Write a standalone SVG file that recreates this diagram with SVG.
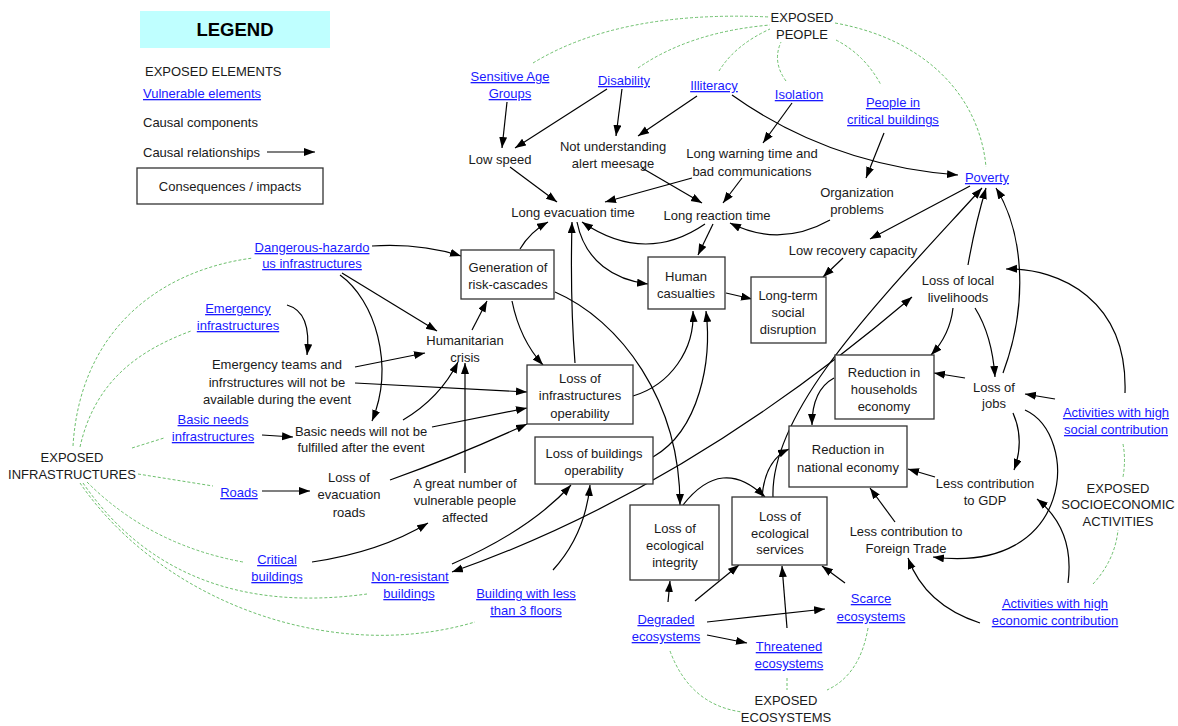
<svg xmlns="http://www.w3.org/2000/svg" width="1178" height="726" viewBox="0 0 1178 726">
<style>
.t{font-family:"Liberation Sans",Arial,sans-serif;font-size:13px;fill:#1a1a1a;text-anchor:middle}
.v{fill:#1a1aff;text-decoration:underline}
.box{fill:#fff;stroke:#333;stroke-width:1.3}
.c{fill:none;stroke:#000;stroke-width:1.2;marker-end:url(#ah)}
.b{marker-start:url(#ah)}
.g{fill:none;stroke:#5cb85c;stroke-width:0.9;stroke-dasharray:3 2}
</style>
<defs>
<marker id="ah" markerUnits="userSpaceOnUse" markerWidth="12" markerHeight="9" refX="11" refY="4" orient="auto-start-reverse"><path d="M0,0 L11,4 L0,8 z" fill="#000"/></marker>
</defs>
<rect width="1178" height="726" fill="#fff"/>

<g id="legend">
<rect x="140" y="11" width="190" height="37" fill="#bfffff"/>
<text x="235" y="36" style="font-family:'Liberation Sans',Arial,sans-serif;font-size:18.5px;font-weight:bold;text-anchor:middle">LEGEND</text>
<text class="t" x="145" y="76" style="text-anchor:start">EXPOSED ELEMENTS</text>
<text class="t v" x="143" y="98" style="text-anchor:start">Vulnerable elements</text>
<text class="t" x="143" y="127" style="text-anchor:start">Causal components</text>
<text class="t" x="143" y="157" style="text-anchor:start">Causal relationships</text>
<path class="c" d="M267,152 L315,152"/>
<rect class="box" x="137" y="168" width="186" height="36"/>
<text class="t" x="230" y="191">Consequences / impacts</text>
</g>

<g id="exposure-links">
<path class="g" d="M533,63 Q620,10 770,17"/>
<path class="g" d="M638,68 Q690,32 770,25"/>
<path class="g" d="M719,71 Q735,45 770,29"/>
<path class="g" d="M786,81 Q772,62 781,42"/>
<path class="g" d="M836,40 Q865,55 881,85"/>
<path class="g" d="M835,23 C930,40 980,100 986,167"/>
<path class="g" d="M73,446 C80,330 160,270 253,258"/>
<path class="g" d="M80,447 C95,380 140,350 191,331"/>
<path class="g" d="M132,448 L164,438"/>
<path class="g" d="M138,474 L213,486"/>
<path class="g" d="M87,482 Q150,545 243,562"/>
<path class="g" d="M83,483 C150,580 250,610 367,594"/>
<path class="g" d="M80,483 C160,600 330,665 475,622"/>
<path class="g" d="M670,651 Q690,705 742,712"/>
<path class="g" d="M787,678 L787,690"/>
<path class="g" d="M868,628 Q860,675 827,690"/>
<path class="g" d="M1123,444 Q1126,460 1123,477"/>
<path class="g" d="M1093,584 Q1115,560 1118,530"/>
</g>

<g id="connectors">
<path class="c" d="M507,102 L502,148"/>
<path class="c" d="M607,89 L515,148"/>
<path class="c" d="M622,89 L616,136"/>
<path class="c" d="M697,96 L638,136"/>
<path class="c" d="M732,95 Q830,165 958,175"/>
<path class="c" d="M792,103 L763,143"/>
<path class="c" d="M884,133 L866,178"/>
<path class="c" d="M510,167 L557,202"/>
<path class="c" d="M642,168 L702,203"/>
<path class="c" d="M692,178 L605,202"/>
<path class="c" d="M742,178 L723,203"/>
<path class="c" d="M830,220 Q780,248 730,223"/>
<path class="c" d="M705,224 Q645,265 582,222"/>
<path class="c" d="M713,224 L698,255"/>
<path class="c" d="M577,222 C585,262 615,280 648,284"/>
<path class="c" d="M970,186 L870,239"/>
<path class="c" d="M843,258 L823,277"/>
<path class="c" d="M726,293 L752,299"/>
<path class="c" d="M372,246 Q420,243 461,256"/>
<path class="c" d="M342,273 L437,331"/>
<path class="c" d="M340,275 C375,300 395,365 372,421"/>
<path class="c" d="M287,305 Q312,312 307,355"/>
<path class="c" d="M355,367 L425,353"/>
<path class="c" d="M355,383 L527,392"/>
<path class="c" d="M262,435 L293,437"/>
<path class="c" d="M403,420 Q440,398 458,362"/>
<path class="c" d="M432,427 L527,408"/>
<path class="c" d="M262,491 L310,491"/>
<path class="c" d="M390,480 Q460,455 527,424"/>
<path class="c" d="M465,473 L465,363"/>
<path class="c" d="M312,562 Q380,552 428,523"/>
<path class="c" d="M472,330 L487,301"/>
<path class="c" d="M512,301 Q520,340 543,365"/>
<path class="c" d="M520,249 Q530,232 548,222"/>
<path class="c" d="M575,363 Q570,300 572,222"/>
<path class="c" d="M555,292 C620,320 680,400 680,505"/>
<path class="c" d="M633,396 C670,385 695,350 693,311"/>
<path class="c" d="M653,457 C700,430 712,360 706,311"/>
<path class="c" d="M452,564 Q530,530 571,485"/>
<path class="c" d="M553,570 Q585,535 590,485"/>
<path class="c b" d="M452,572 Q684,491 912,297"/>
<path class="c" d="M773,497 C770,410 880,300 982,188"/>
<path class="c" d="M968,265 Q975,225 986,188"/>
<path class="c" d="M1003,373 C1030,300 1022,230 996,188"/>
<path class="c" d="M953,308 Q950,335 931,355"/>
<path class="c" d="M975,308 Q992,335 995,377"/>
<path class="c" d="M965,378 L934,373"/>
<path class="c" d="M1055,399 L1025,394"/>
<path class="c" d="M1125,393 C1128,300 1060,268 1006,269"/>
<path class="c" d="M1013,413 Q1025,440 1014,470"/>
<path class="c" d="M1025,410 C1080,435 1075,575 933,557"/>
<path class="c" d="M935,477 L908,469"/>
<path class="c" d="M895,522 L870,488"/>
<path class="c" d="M1068,583 Q1075,530 1037,499"/>
<path class="c" d="M980,623 Q925,605 908,558"/>
<path class="c" d="M834,378 Q812,390 812,425"/>
<path class="c" d="M668,602 L670,581"/>
<path class="c" d="M695,601 L739,565"/>
<path class="c" d="M707,635 L747,643"/>
<path class="c" d="M707,622 L825,609"/>
<path class="c" d="M787,628 L782,566"/>
<path class="c" d="M845,583 L822,566"/>
<path class="c" d="M683,505 Q722,455 765,497"/>
<path class="c" d="M762,497 Q765,460 789,449"/>
</g>

<g id="exposed-people"><text class="t" x="802" y="22">EXPOSED</text><text class="t" x="802" y="39">PEOPLE</text></g>
<g id="sensitive-age"><text class="t v" x="510" y="81">Sensitive Age</text><text class="t v" x="510" y="98">Groups</text></g>
<g id="disability"><text class="t v" x="624" y="85">Disability</text></g>
<g id="illiteracy"><text class="t v" x="714" y="90">Illiteracy</text></g>
<g id="isolation"><text class="t v" x="799" y="99">Isolation</text></g>
<g id="people-critical"><text class="t v" x="893" y="107">People in</text><text class="t v" x="893" y="124">critical buildings</text></g>
<g id="poverty"><text class="t v" x="987" y="182">Poverty</text></g>
<g id="low-speed"><text class="t" x="500" y="164">Low speed</text></g>
<g id="not-understanding"><text class="t" x="613" y="151">Not understanding</text><text class="t" x="613" y="168">alert meesage</text></g>
<g id="long-warning"><text class="t" x="752" y="158">Long warning time and</text><text class="t" x="752" y="176">bad communications</text></g>
<g id="organization"><text class="t" x="857" y="197">Organization</text><text class="t" x="857" y="214">problems</text></g>
<g id="long-evac"><text class="t" x="573" y="217">Long evacuation time</text></g>
<g id="long-reaction"><text class="t" x="717" y="220">Long reaction time</text></g>
<g id="low-recovery"><text class="t" x="853" y="255">Low recovery capacity</text></g>

<g id="generation"><rect class="box" x="461" y="250" width="93" height="49"/><text class="t" x="508" y="272">Generation of</text><text class="t" x="508" y="289">risk-cascades</text></g>
<g id="human-casualties"><rect class="box" x="648" y="257" width="77" height="52"/><text class="t" x="686" y="281">Human</text><text class="t" x="686" y="298">casualties</text></g>
<g id="long-term"><rect class="box" x="751" y="277" width="75" height="66"/><text class="t" x="788" y="300">Long-term</text><text class="t" x="788" y="317">social</text><text class="t" x="788" y="334">disruption</text></g>
<g id="loss-infra"><rect class="box" x="527" y="365" width="106" height="59"/><text class="t" x="580" y="383">Loss of</text><text class="t" x="580" y="400">infrastructures</text><text class="t" x="580" y="418">operability</text></g>
<g id="loss-buildings"><rect class="box" x="535" y="437" width="118" height="47"/><text class="t" x="594" y="458">Loss of buildings</text><text class="t" x="594" y="475">operability</text></g>
<g id="loss-eco-integrity"><rect class="box" x="630" y="505" width="89" height="75"/><text class="t" x="675" y="533">Loss of</text><text class="t" x="675" y="550">ecological</text><text class="t" x="675" y="567">integrity</text></g>
<g id="loss-eco-services"><rect class="box" x="732" y="497" width="95" height="68"/><text class="t" x="780" y="521">Loss of</text><text class="t" x="780" y="538">ecological</text><text class="t" x="780" y="554">services</text></g>
<g id="red-households"><rect class="box" x="835" y="355" width="99" height="64"/><text class="t" x="884" y="377">Reduction in</text><text class="t" x="884" y="394">households</text><text class="t" x="884" y="411">economy</text></g>
<g id="red-national"><rect class="box" x="789" y="426" width="118" height="61"/><text class="t" x="848" y="454">Reduction in</text><text class="t" x="848" y="472">national economy</text></g>

<g id="livelihoods"><text class="t" x="958" y="285">Loss of local</text><text class="t" x="958" y="302">livelihoods</text></g>
<g id="jobs"><text class="t" x="994" y="392">Loss of</text><text class="t" x="994" y="408">jobs</text></g>
<g id="act-social"><text class="t v" x="1116" y="417">Activities with high</text><text class="t v" x="1116" y="434">social contribution</text></g>
<g id="gdp"><text class="t" x="985" y="488">Less contribution</text><text class="t" x="985" y="505">to GDP</text></g>
<g id="foreign"><text class="t" x="906" y="536">Less contribution to</text><text class="t" x="906" y="553">Foreign Trade</text></g>
<g id="exposed-socio"><text class="t" x="1118" y="493">EXPOSED</text><text class="t" x="1118" y="509">SOCIOECONOMIC</text><text class="t" x="1118" y="526">ACTIVITIES</text></g>
<g id="act-economic"><text class="t v" x="1055" y="608">Activities with high</text><text class="t v" x="1055" y="625">economic contribution</text></g>

<g id="dangerous"><text class="t v" x="312" y="252">Dangerous-hazardo</text><text class="t v" x="312" y="268">us infrastructures</text></g>
<g id="emergency-infra"><text class="t v" x="238" y="313">Emergency</text><text class="t v" x="238" y="330">infrastructures</text></g>
<g id="emergency-teams"><text class="t" x="277" y="369">Emergency teams and</text><text class="t" x="277" y="387">infrstructures will not be</text><text class="t" x="277" y="404">available during the event</text></g>
<g id="humanitarian"><text class="t" x="465" y="345">Humanitarian</text><text class="t" x="465" y="362">crisis</text></g>
<g id="basic-infra"><text class="t v" x="213" y="424">Basic needs</text><text class="t v" x="213" y="441">infrastructures</text></g>
<g id="basic-needs"><text class="t" x="361" y="436">Basic needs will not be</text><text class="t" x="361" y="452">fulfilled after the event</text></g>
<g id="exposed-infra"><text class="t" x="72" y="462">EXPOSED</text><text class="t" x="72" y="479">INFRASTRUCTURES</text></g>
<g id="roads"><text class="t v" x="239" y="497">Roads</text></g>
<g id="loss-evac-roads"><text class="t" x="349" y="482">Loss of</text><text class="t" x="349" y="499">evacuation</text><text class="t" x="349" y="517">roads</text></g>
<g id="great-number"><text class="t" x="465" y="488">A great number of</text><text class="t" x="465" y="505">vulnerable people</text><text class="t" x="465" y="522">affected</text></g>
<g id="critical-buildings"><text class="t v" x="277" y="564">Critical</text><text class="t v" x="277" y="581">buildings</text></g>
<g id="non-resistant"><text class="t v" x="410" y="581">Non-resistant</text><text class="t v" x="409" y="598">buildings</text></g>
<g id="building-less"><text class="t v" x="526" y="598">Building with less</text><text class="t v" x="526" y="615">than 3 floors</text></g>
<g id="degraded"><text class="t v" x="666" y="624">Degraded</text><text class="t v" x="666" y="641">ecosystems</text></g>
<g id="threatened"><text class="t v" x="789" y="651">Threatened</text><text class="t v" x="789" y="668">ecosystems</text></g>
<g id="scarce"><text class="t v" x="871" y="603">Scarce</text><text class="t v" x="871" y="621">ecosystems</text></g>
<g id="exposed-eco"><text class="t" x="786" y="705">EXPOSED</text><text class="t" x="786" y="722">ECOSYSTEMS</text></g>
</svg>
